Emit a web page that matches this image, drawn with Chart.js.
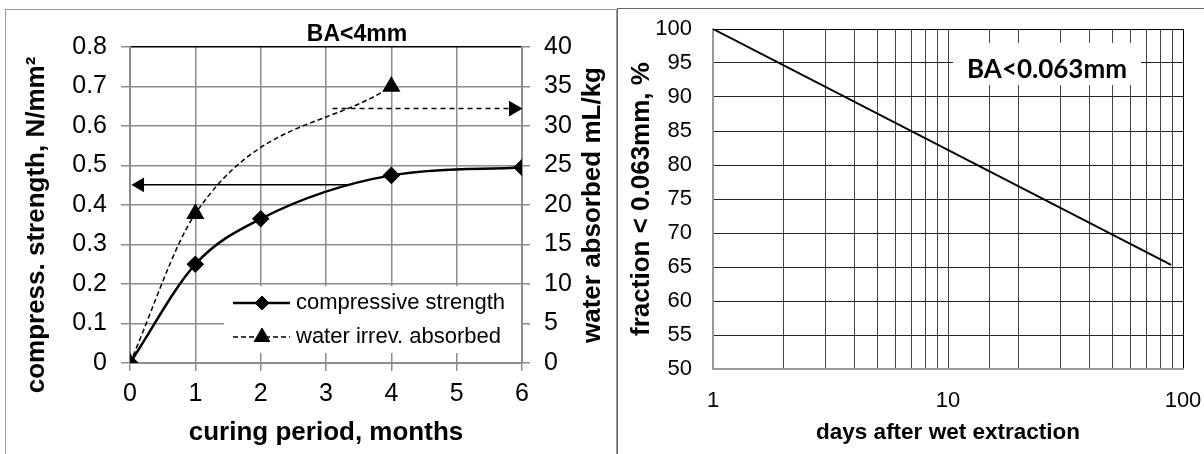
<!DOCTYPE html>
<html>
<head>
<meta charset="utf-8">
<script src="https://cdn.jsdelivr.net/npm/chart.js@4.4.0/dist/chart.umd.min.js"></script>
<style>
    body { margin: 0; background: #fff; width: 1204px; height: 454px; overflow: hidden; position: relative; }
    .panel { position: absolute; border: 1px solid #999; background: #fff; }
    #leftPanel { left: 5px; top: 9px; width: 610px; height: 460px; }
    #rightPanel { left: 617px; top: 8px; width: 600px; height: 460px; border-color: #666; }
    #leftBox { position: relative; width: 610px; height: 444px; }
    #rightBox { position: relative; width: 586px; height: 445px; }
</style>
</head>
<body>
<div class="panel" id="leftPanel"><div id="leftBox"><canvas id="strengthChart"></canvas></div></div>
<div class="panel" id="rightPanel"><div id="rightBox"><canvas id="fractionChart"></canvas></div></div>
<script>
// Left chart: BA<4mm
const leftTitle = 'BA<4mm';
const months = [0, 1, 2, 4, 6];
const strength = [0, 0.25, 0.365, 0.475, 0.495];
const waterMonths = [0, 1, 4];
const waterAbsorbed = [0, 18.9, 35];
const seriesLabels = ['compressive strength', 'water irrev. absorbed'];
const axisTitles = ['compress. strength, N/mm²', 'water absorbed mL/kg', 'curing period, months'];
// arrows pointing to the axis each series belongs to
const strengthArrowX = [3.37, 0.15];
const strengthArrowY = [0.451, 0.451];
const waterArrowX = [3.1, 5.87];
const waterArrowY = [32.2, 32.2];
const monthTicks = ['0', '1', '2', '3', '4', '5', '6'];
const strengthTicks = ['0', '0.1', '0.2', '0.3', '0.4', '0.5', '0.6', '0.7', '0.8'];
const waterTicks = ['0', '5', '10', '15', '20', '25', '30', '35', '40'];

// Right chart: BA<0.063mm
const rightTitle = 'BA<0.063mm';
const days = [1, 89];
const fraction = [100, 65.3];
const dayTicks = ['1', '10', '100'];
const fractionTicks = ['50', '55', '60', '65', '70', '75', '80', '85', '90', '95', '100'];

const FAMILY = '"Liberation Sans", Arial, sans-serif';
Chart.defaults.font.family = FAMILY;
Chart.defaults.color = '#000';

function points(xs, ys) {
    return xs.map(function (x, i) { return { x: x, y: ys[i] }; });
}

function verticalText(ctx, text, x, y) {
    ctx.save();
    ctx.translate(x, y);
    ctx.rotate(-Math.PI / 2);
    ctx.fillText(text, 0, 0);
    ctx.restore();
}

const leftDecor = {
    id: 'leftDecor',
    afterDatasetsDraw: function (chart) {
        const ctx = chart.ctx;
        const area = chart.chartArea;
        ctx.save();
        ctx.fillStyle = '#000';
        ctx.textAlign = 'center';
        ctx.textBaseline = 'middle';
        // title
        ctx.font = 'bold 23px ' + FAMILY;
        ctx.fillText(leftTitle, area.left + 227, area.top - 12.5);
        // both y axis titles read bottom to top
        ctx.font = 'bold 26px ' + FAMILY;
        verticalText(ctx, axisTitles[0], 31, area.top + 178);
        verticalText(ctx, axisTitles[1], area.right + 71, (area.top + area.bottom) / 2);
        // legend box over the grid
        const bx = area.left + 94;
        const by = area.top + 239;
        ctx.fillStyle = '#fff';
        ctx.fillRect(bx, by, area.right - 1 - bx, area.bottom - 10 - by);
        ctx.textAlign = 'left';
        ctx.font = '22px ' + FAMILY;
        for (let i = 0; i < 2; i++) {
            const ds = chart.data.datasets[i];
            const ly = by + 17 + i * 34;
            ctx.strokeStyle = '#000';
            ctx.fillStyle = '#000';
            ctx.lineWidth = ds.borderWidth;
            ctx.setLineDash(ds.borderDash || []);
            ctx.beginPath();
            ctx.moveTo(bx + 9, ly);
            ctx.lineTo(bx + 66, ly);
            ctx.stroke();
            ctx.setLineDash([]);
            ctx.lineWidth = 1;
            Chart.helpers.drawPoint(ctx, { pointStyle: ds.pointStyle, rotation: 0, radius: ds.pointRadius, borderWidth: 1 }, bx + 38, ly);
            ctx.fillText(ds.label, bx + 72, ly);
        }
        ctx.restore();
    }
};

const rightDecor = {
    id: 'rightDecor',
    afterDatasetsDraw: function (chart) {
        const ctx = chart.ctx;
        const area = chart.chartArea;
        ctx.save();
        ctx.fillStyle = '#fff';
        ctx.fillRect(area.left + 240, area.top + 14, 188, 42);
        ctx.fillStyle = '#000';
        ctx.font = 'bold 26px Lato, sans-serif';
        ctx.textAlign = 'center';
        ctx.textBaseline = 'middle';
        ctx.fillText(rightTitle, area.left + 334, area.top + 41);
        ctx.restore();
    }
};

document.addEventListener('DOMContentLoaded', function () {
    const ctx1 = document.getElementById('strengthChart').getContext('2d');
    new Chart(ctx1, {
        type: 'line',
        data: {
            datasets: [
                {
                    label: seriesLabels[0],
                    data: points(months, strength),
                    yAxisID: 'y',
                    borderColor: '#000',
                    backgroundColor: '#000',
                    borderWidth: 2.5,
                    pointStyle: 'rectRot',
                    pointRadius: 7,
                    cubicInterpolationMode: 'monotone'
                },
                {
                    label: seriesLabels[1],
                    data: points(waterMonths, waterAbsorbed),
                    yAxisID: 'y1',
                    borderColor: '#000',
                    backgroundColor: '#000',
                    borderWidth: 1.5,
                    borderDash: [5, 3],
                    pointStyle: 'triangle',
                    pointRadius: 9,
                    cubicInterpolationMode: 'monotone'
                },
                {
                    label: '',
                    data: points(strengthArrowX, strengthArrowY),
                    yAxisID: 'y',
                    borderColor: '#000',
                    backgroundColor: '#000',
                    borderWidth: 1.5,
                    pointStyle: 'triangle',
                    pointRadius: [0, 7],
                    pointRotation: [0, -90]
                },
                {
                    label: '',
                    data: points(waterArrowX, waterArrowY),
                    yAxisID: 'y1',
                    borderColor: '#000',
                    backgroundColor: '#000',
                    borderWidth: 1.5,
                    borderDash: [5, 4],
                    pointStyle: 'triangle',
                    pointRadius: [0, 7.5],
                    pointRotation: [0, 90]
                }
            ]
        },
        options: {
            responsive: true,
            maintainAspectRatio: false,
            animation: false,
            layout: { padding: { top: 37 } },
            plugins: { legend: { display: false }, tooltip: { enabled: false } },
            scales: {
                x: {
                    type: 'linear',
                    min: 0,
                    max: 6,
                    afterFit: function (s) { s.height = 91; },
                    ticks: {
                        stepSize: 1,
                        padding: 8,
                        maxRotation: 0,
                        font: { size: 25 },
                        callback: function (v, i) { return monthTicks[i]; }
                    },
                    grid: { color: '#8c8c8c', lineWidth: 1.5, tickColor: '#8c8c8c', tickLength: 8 },
                    border: { color: '#8c8c8c', width: 2 },
                    title: {
                        display: true,
                        text: axisTitles[2],
                        font: { size: 26, weight: 'bold' },
                        padding: { top: 0, bottom: 6 }
                    }
                },
                y: {
                    position: 'left',
                    min: 0,
                    max: 0.8,
                    afterFit: function (s) { s.width = 124; },
                    ticks: {
                        stepSize: 0.1,
                        padding: 14,
                        font: { size: 25 },
                        callback: function (v, i) { return strengthTicks[i]; }
                    },
                    grid: {
                        color: function (c) { return c.tick && c.tick.value >= 0.8 ? '#000' : '#8c8c8c'; },
                        lineWidth: 1.5,
                        tickColor: '#8c8c8c',
                        tickLength: 9
                    },
                    border: { color: '#8c8c8c', width: 2 }
                },
                y1: {
                    position: 'right',
                    min: 0,
                    max: 40,
                    afterFit: function (s) { s.width = 94; },
                    ticks: {
                        stepSize: 5,
                        padding: 14,
                        font: { size: 25 },
                        callback: function (v, i) { return waterTicks[i]; }
                    },
                    grid: { drawOnChartArea: false, tickColor: '#8c8c8c', lineWidth: 1.5, tickLength: 8 },
                    border: { color: '#8c8c8c', width: 2 }
                }
            }
        },
        plugins: [leftDecor]
    });

    const ctx2 = document.getElementById('fractionChart').getContext('2d');
    new Chart(ctx2, {
        type: 'line',
        data: {
            datasets: [
                {
                    label: 'fraction',
                    data: points(days, fraction),
                    borderColor: '#000',
                    borderWidth: 2,
                    pointRadius: 0,
                    tension: 0
                }
            ]
        },
        options: {
            responsive: true,
            maintainAspectRatio: false,
            animation: false,
            layout: { padding: { top: 20, right: 21 } },
            plugins: { legend: { display: false }, tooltip: { enabled: false } },
            scales: {
                x: {
                    type: 'logarithmic',
                    min: 1,
                    max: 100,
                    afterFit: function (s) { s.height = 85; },
                    ticks: {
                        autoSkip: false,
                        maxRotation: 0,
                        padding: 0,
                        font: { size: 22 },
                        callback: function (v) { return dayTicks.indexOf(String(v)) >= 0 ? String(v) : ''; }
                    },
                    // invisible tick marks keep the labels away from the axis
                    grid: {
                        color: function (c) { return c.tick && c.tick.value >= 100 ? '#000' : '#444'; },
                        tickColor: 'rgba(0,0,0,0)',
                        tickLength: 19
                    },
                    border: { color: '#999', width: 2 },
                    title: {
                        display: true,
                        text: 'days after wet extraction',
                        font: { size: 22.5, weight: 'bold' },
                        padding: { top: 0, bottom: 7.5 }
                    }
                },
                y: {
                    min: 50,
                    max: 100,
                    afterFit: function (s) { s.width = 95; },
                    ticks: {
                        stepSize: 5,
                        padding: 0,
                        font: { size: 22 },
                        callback: function (v, i) { return fractionTicks[i]; }
                    },
                    grid: {
                        color: function (c) { return c.tick && c.tick.value >= 100 ? '#000' : '#222'; },
                        tickColor: 'rgba(0,0,0,0)',
                        tickLength: 21
                    },
                    border: { color: '#999', width: 2 },
                    title: {
                        display: true,
                        text: 'fraction < 0.063mm, %',
                        font: { size: 26, weight: 'bold' },
                        padding: { top: 8, bottom: 0 }
                    }
                }
            }
        },
        plugins: [rightDecor]
    });
});
</script>
</body>
</html>
